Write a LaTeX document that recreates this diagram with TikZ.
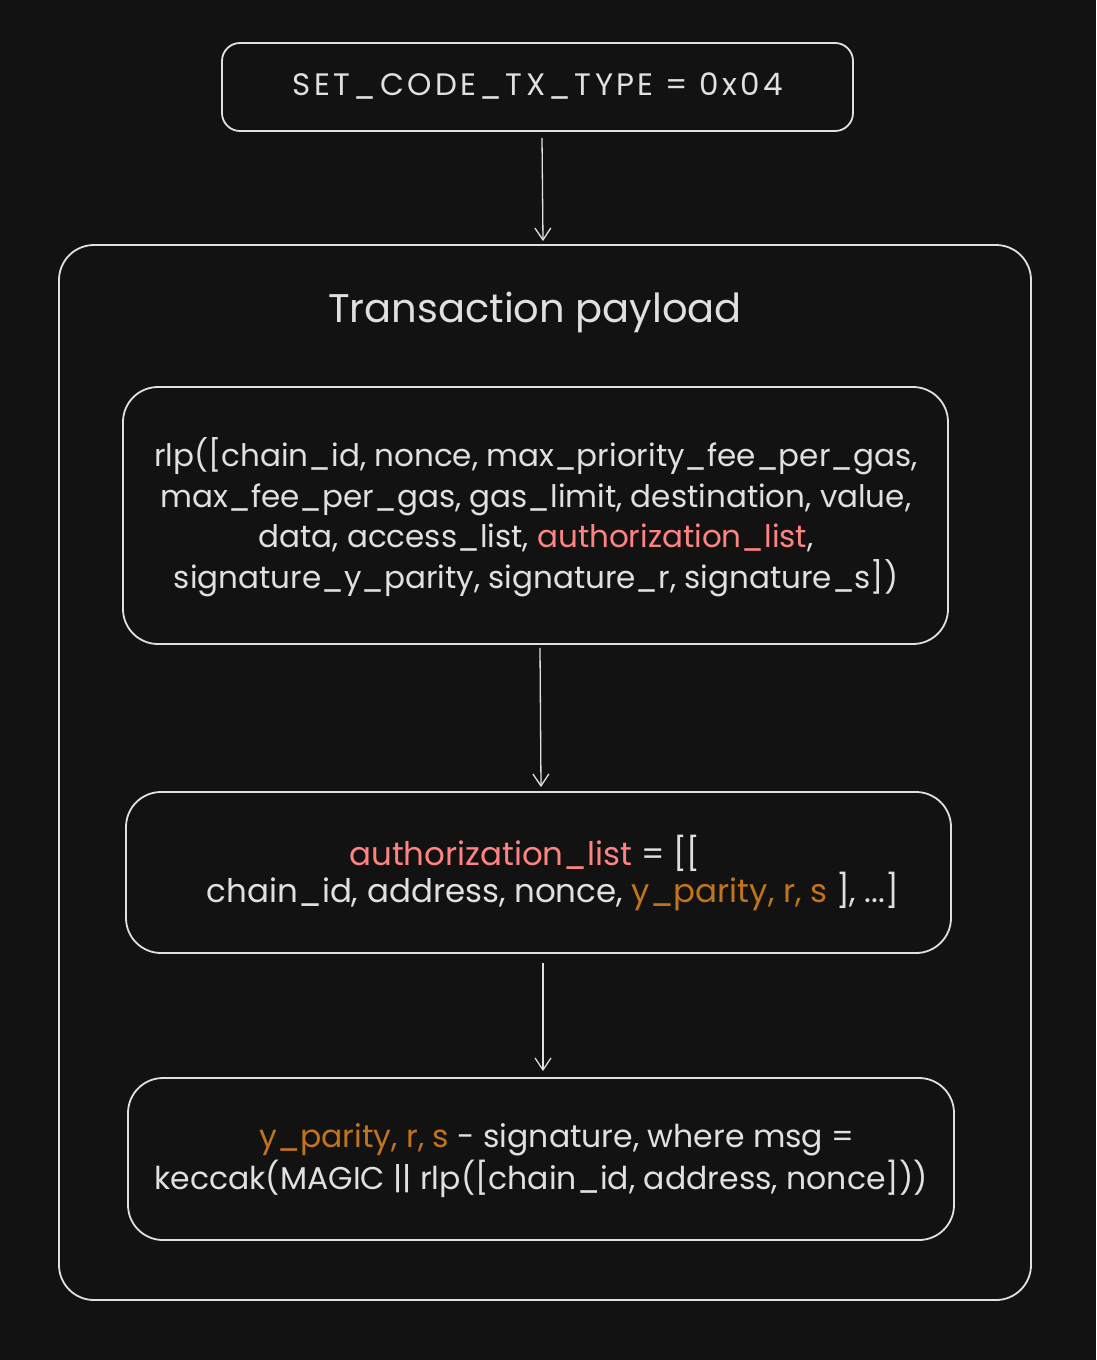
\documentclass[tikz,border=0pt]{standalone}
\usepackage{fontspec}
\setmainfont{Poppins}
\usetikzlibrary{arrows.meta}
\definecolor{bg}{HTML}{121212}
\definecolor{fg}{HTML}{E0E0E0}
\definecolor{redt}{HTML}{FF8383}
\definecolor{orat}{HTML}{C2741A}
\tikzset{
  box/.style={draw=fg, line width=1.8pt, fill=none, inner sep=0pt},
  txt/.style={text=fg, inner sep=0pt, font=\fontsize{31}{40.5}\selectfont},
  arr/.style={draw=fg, line width=1.3pt, -{Straight Barb[length=12pt,width=16pt,line width=1.3pt]}},
}
\begin{document}
\begin{tikzpicture}[x=1pt,y=-1pt]
\fill[bg] (0,0) rectangle (1096,1360);
\useasboundingbox (0,0) rectangle (1096,1360);
% top box
\node[box, rounded corners=18pt, minimum width=631pt, minimum height=88pt] (top) at (537.5,87) {};
\node[txt, font=\fontsize{31}{40.5}\selectfont\addfontfeatures{LetterSpace=11}] (toptxt) at (538,86) {SET\_CODE\_TX\_TYPE = 0x04};
% outer container
\node[box, rounded corners=35pt, minimum width=972pt, minimum height=1055pt] (outer) at (545,772.5) {};
\node[txt, font=\fontsize{40}{48}\selectfont] (title) at (535,312) {Transaction payload};
% box 2
\node[box, rounded corners=35pt, minimum width=825pt, minimum height=257pt] (b2) at (535.5,515.5) {};
\node[txt, align=center] (b2txt) at (536,517) {rlp([chain\_id, nonce, max\_priority\_fee\_per\_gas,\\
max\_fee\_per\_gas, gas\_limit, destination, value,\\
data, access\_list, \textcolor{redt}{authorization\_list},\\
signature\_y\_parity, signature\_r, signature\_s])};
% box 3
\node[box, rounded corners=35pt, minimum width=825pt, minimum height=161pt] (b3) at (538.5,872.5) {};
\node[txt, font=\fontsize{32.5}{40.5}\selectfont] (b3l1) at (525,853) {\textcolor{redt}{authorization\_list} = [[};
\node[txt, font=\fontsize{32.5}{40.5}\selectfont] (b3l2) at (553,892) {chain\_id, address, nonce, \textcolor{orat}{y\_parity, r, s} ], ...]};
% box 4
\node[box, rounded corners=35pt, minimum width=826pt, minimum height=162pt] (b4) at (541,1159) {};
\node[txt, font=\fontsize{31.5}{40.5}\selectfont] (b4l1) at (557,1140) {\textcolor{orat}{y\_parity, r, s} - signature, where msg =};
\node[txt, font=\fontsize{31.5}{40.5}\selectfont] (b4l2) at (541,1179) {keccak(MAGIC || rlp([chain\_id, address, nonce]))};
% arrows
\draw[arr] ([shift={(4.5,6)}]top.south) -- ([shift={(-2,-3)}]outer.north);
\draw[arr] ([shift={(4.5,3)}]b2.south) -- ([shift={(2.5,-4)}]b3.north);
\draw[arr] ([shift={(4.5,9)}]b3.south) -- ([shift={(2,-6)}]b4.north);
\end{tikzpicture}
\end{document}
